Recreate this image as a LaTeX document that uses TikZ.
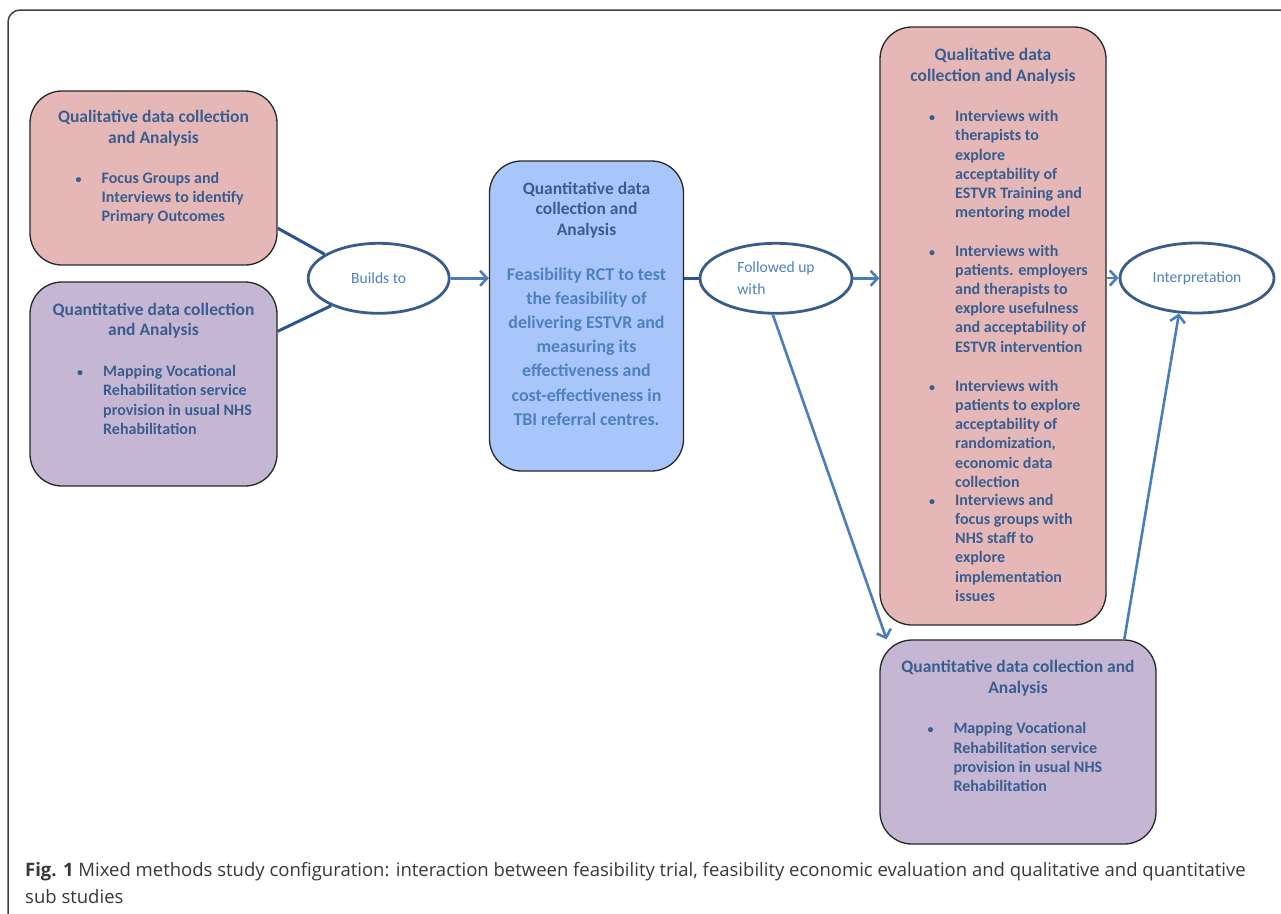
\documentclass[tikz,border=0pt]{standalone}
\usepackage{fontspec}
\setmainfont{Carlito}
\newfontfamily\capfont{Open Sans}
\usetikzlibrary{shapes.geometric,arrows.meta}
\definecolor{txt}{HTML}{3A5D8F}
\definecolor{ltxt}{HTML}{4F81BD}
\definecolor{pink}{HTML}{E5B8B7}
\definecolor{lilac}{HTML}{C5B6D4}
\definecolor{sky}{HTML}{A8C6FA}
\definecolor{edge}{HTML}{385D8A}
\definecolor{dline}{HTML}{2C5490}
\definecolor{aline}{HTML}{4A7EBB}
\newcommand{\bl}{\llap{\scalebox{0.75}{\textbullet}\hspace{20pt}}}
\begin{document}
\begin{tikzpicture}[x=1pt,y=-1pt,
  box/.style={draw=black!85,line width=1.3pt,rounded corners=32pt},
  oval/.style={ellipse,draw=edge,line width=2.8pt,fill=white,text=ltxt,inner sep=0pt,
    font=\fontsize{15.6}{22}\selectfont},
  head/.style={anchor=base,align=center,text=txt,inner sep=0pt,
    font=\bfseries\fontsize{17.5}{20.8}\selectfont},
  items/.style={anchor=base west,align=left,text=txt,inner sep=0pt,
    font=\bfseries\fontsize{16}{19.2}\selectfont},
  link/.style={draw=dline,line width=3pt},
  flow/.style={draw=aline,line width=2.6pt,-{Straight Barb[length=7pt,width=15pt]}}]
\useasboundingbox (0,0) rectangle (1281,913);
\clip (0,0) rectangle (1281,913);
\draw[black!75,line width=1.5pt,rounded corners=12pt] (8,10) rectangle (1300,935);
\node[box,fill=pink,minimum width=247,minimum height=174] (ql1) at (153.5,178) {};
\node[box,fill=lilac,minimum width=247,minimum height=204] (qn1) at (153.5,384) {};
\node[box,fill=sky,minimum width=194,minimum height=310] (ctr) at (586.5,316) {};
\node[box,fill=pink,minimum width=226,minimum height=598] (ql2) at (993,326) {};
\node[box,fill=lilac,minimum width=276,minimum height=204] (qn2) at (1018,742) {};
\node[oval,minimum width=141,minimum height=70] (bld) at (378.7,278.3) {Builds to};
\node[oval,minimum width=152,minimum height=70,align=left] (fol) at (776,278.3) {Followed up\\with};
\node[oval,minimum width=154,minimum height=70] (int) at (1197,278) {Interpretation};
\draw[link] (ql1.-22.8) -- (bld.156.5);
\draw[link] (qn1.23.2) -- (bld.210.3);
\draw[flow] (bld.east) -- (ctr.west |- bld.east);
\draw[link] (ctr.east |- fol.west) -- (fol.west);
\draw[flow] (fol.east) -- (ql2.west |- fol.east);
\draw[flow] (ql2.east |- int.west) -- (int.west);
\draw[flow] (fol.-95) -- (qn2.142);
\draw[flow] (qn2.44.4) -- (int.243.2);
\node[head] (ql1h) at (153.5,143.5) {Qualitative data collection\\and Analysis};
\node[items] (ql1b) at (101.5,221.7) {\bl Focus Groups and\\Interviews to identify\\Primary Outcomes};
\node[head] (qn1h) at (153.5,335.8) {Quantitative data collection\\and Analysis};
\node[items] (qn1b) at (103,434.3) {\bl Mapping Vocational\\Rehabilitation service\\provision in usual NHS\\Rehabilitation};
\node[head] (ctrh) at (586.5,235.7) {Quantitative data\\collection and\\Analysis};
\node[head,text=ltxt,font=\bfseries\fontsize{17.9}{24.2}\selectfont] (ctrb) at (586.5,425.2) {Feasibility RCT to test\\the feasibility of\\delivering ESTVR and\\measuring its\\effectiveness and\\cost-effectiveness in\\TBI referral centres.};
\node[head] (ql2h) at (993,81) {Qualitative data\\collection and Analysis};
\node[items] (ql2a) at (955,217.7) {\bl Interviews with\\therapists to\\explore\\acceptability of\\ESTVR Training and\\mentoring model};
\node[items] (ql2b) at (955,352) {\bl Interviews with\\patients. employers\\and therapists to\\explore usefulness\\and acceptability of\\ESTVR intervention};
\node[items] (ql2c) at (955,487.2) {\bl Interviews with\\patients to explore\\acceptability of\\randomization,\\economic data\\collection};
\node[items] (ql2d) at (955,601.3) {\bl Interviews and\\focus groups with\\NHS staff to\\explore\\implementation\\issues};
\node[head] (qn2h) at (1018,693.3) {Quantitative data collection and\\Analysis};
\node[items] (qn2b) at (953.3,791.5) {\bl Mapping Vocational\\Rehabilitation service\\provision in usual NHS\\Rehabilitation};
\node[anchor=base west,align=left,inner sep=0pt,text=black!78,font=\capfont\fontsize{18.5}{27}\selectfont] (cap) at (25,903) {\textbf{Fig. 1} Mixed methods study configuration: interaction between feasibility trial, feasibility economic evaluation and qualitative and quantitative\\sub studies};
\end{tikzpicture}
\end{document}
